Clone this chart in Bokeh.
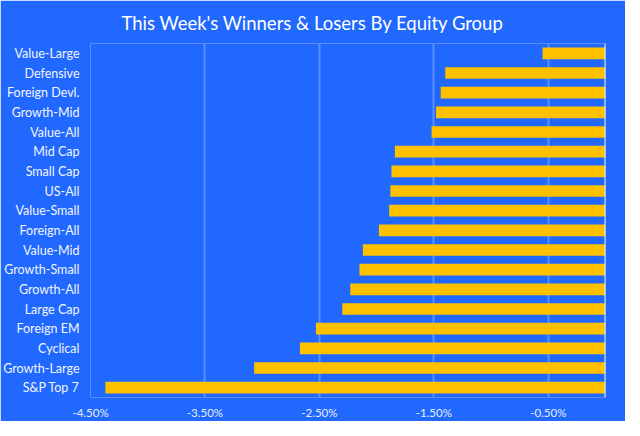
from bokeh.plotting import figure
from bokeh.models import Range1d, FactorRange, FixedTicker, PrintfTickFormatter, Span
from bokeh.embed import file_html
from bokeh.resources import INLINE

# Data (weekly returns, %)
groups = ["Value-Large", "Defensive", "Foreign Devl.", "Growth-Mid", "Value-All",
          "Mid Cap", "Small Cap", "US-All", "Value-Small", "Foreign-All",
          "Value-Mid", "Growth-Small", "Growth-All", "Large Cap", "Foreign EM",
          "Cyclical", "Growth-Large", "S&P Top 7"]
returns = [-0.55, -1.40, -1.44, -1.48, -1.52,
           -1.84, -1.87, -1.88, -1.89, -1.98,
           -2.12, -2.15, -2.23, -2.30, -2.53,
           -2.67, -3.07, -4.37]
tick_values = [-4.5, -3.5, -2.5, -1.5, -0.5]

BG = "#2168FF"
FONT = "Lato"

p = figure(
    frame_width=515, frame_height=354,
    y_range=FactorRange(factors=list(reversed(groups))),
    x_range=Range1d(-4.5, 0),
    output_backend="svg", toolbar_location=None,
    title="This Week's Winners & Losers By Equity Group",
    min_border_left=89, min_border_right=20, min_border_top=43, min_border_bottom=23,
)
p.background_fill_color = BG
p.border_fill_color = BG
p.outline_line_color = None

p.title.align = "left"
p.title.offset = 31
p.title.vertical_align = "top"
p.title.text_color = "white"
p.title.text_font = FONT
p.title.text_font_size = "18.5px"
p.title.text_font_style = "normal"
p.title.standoff = 15

p.hbar(y=groups, left=returns, right=0, height=0.59, fill_color="#FFC000", line_color=None)

p.xaxis.ticker = FixedTicker(ticks=tick_values)
p.xaxis.formatter = PrintfTickFormatter(format="%.2f%%")
p.xaxis.axis_line_color = None
p.xaxis.major_tick_line_color = None
p.xaxis.minor_tick_line_color = None
p.xaxis.major_tick_in = 0
p.xaxis.major_tick_out = 0
p.xaxis.major_label_text_color = "#e6edff"
p.xaxis.major_label_text_font = FONT
p.xaxis.major_label_text_font_size = "11.5px"
p.xaxis.major_label_standoff = 8

p.yaxis.axis_line_color = None
p.yaxis.major_tick_line_color = None
p.yaxis.minor_tick_line_color = None
p.yaxis.major_tick_in = 0
p.yaxis.major_tick_out = 0
p.yaxis.major_label_text_color = "#f2f5ff"
p.yaxis.major_label_text_font = FONT
p.yaxis.major_label_text_font_size = "12.5px"
p.yaxis.major_label_standoff = 11

p.xgrid.ticker = FixedTicker(ticks=tick_values)
p.xgrid.grid_line_color = "#5a8eff"
p.xgrid.grid_line_width = 2
p.ygrid.grid_line_color = None

p.add_layout(Span(location=0, dimension="height", line_color="#dfe8ff", line_width=2))

open("out.html", "w").write(file_html(p, INLINE))
